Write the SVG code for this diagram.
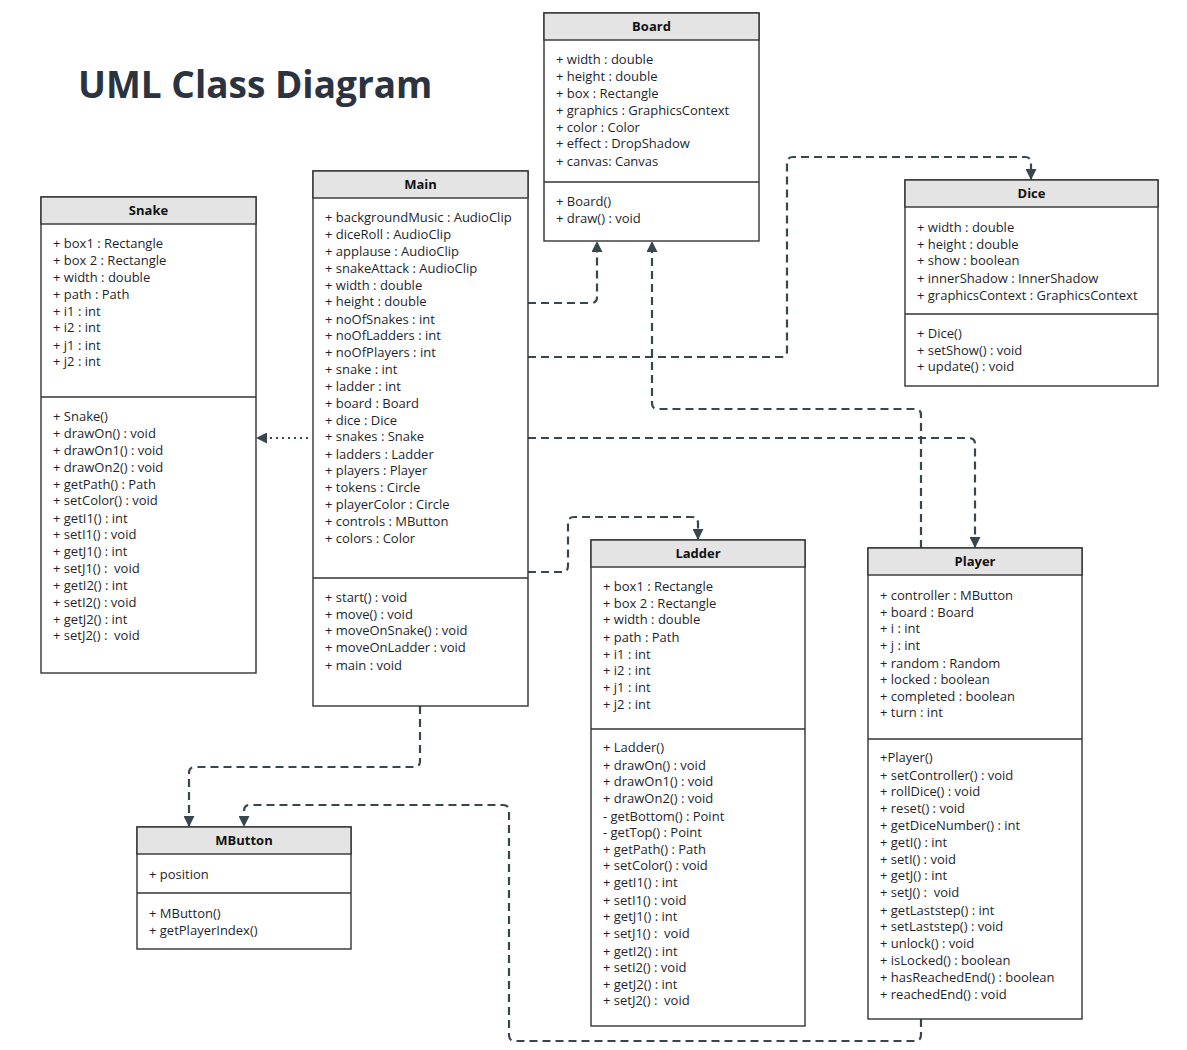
<svg xmlns="http://www.w3.org/2000/svg" width="1187" height="1050" viewBox="0 0 1187 1050">
<style>
.box{fill:#fff;stroke:#333;stroke-width:1.4}
.hdr{fill:#e4e4e4;stroke:#333;stroke-width:1.4}
.div{stroke:#333;stroke-width:1.4}
.t{font-family:"Open Sans","Noto Sans",sans-serif;font-size:13px;fill:#1f1f2e;white-space:pre}
.h{font-family:"Open Sans","Noto Sans",sans-serif;font-size:13px;font-weight:bold;fill:#111;text-anchor:middle}
.title{font-family:"Open Sans","Noto Sans",sans-serif;font-size:37px;font-weight:bold;fill:#2b3340}
.c{fill:none;stroke:#37474f;stroke-width:2.2;stroke-dasharray:8,5}
.d{fill:none;stroke:#37474f;stroke-width:2;stroke-dasharray:2,4}
</style>
<defs>
<marker id="ar" viewBox="0 0 11 11" refX="10" refY="5.5" markerWidth="11" markerHeight="11" markerUnits="userSpaceOnUse" orient="auto">
<path d="M0,0 L11,5.5 L0,11 z" fill="#37474f"/>
</marker>
</defs>
<rect width="1187" height="1050" fill="#fff"/>
<text class="title" x="78" y="98">UML Class Diagram</text>

<g id="connectors">
<path class="c" d="M528,303 H591 Q597,303 597,297 V242" marker-end="url(#ar)"/>
<path class="c" d="M528,357 H781 Q787,357 787,351 V163 Q787,157 793,157 H1025 Q1031,157 1031,163 V179" marker-end="url(#ar)"/>
<path class="c" d="M921,548 V415 Q921,409 915,409 H658 Q652,409 652,403 V242" marker-end="url(#ar)"/>
<path class="c" d="M528,438 H969 Q975,438 975,444 V547" marker-end="url(#ar)"/>
<path class="c" d="M528,572 H562 Q568,572 568,566 V523 Q568,517 574,517 H692 Q698,517 698,523 V539" marker-end="url(#ar)"/>
<path class="c" d="M420,706 V761 Q420,767 414,767 H195 Q189,767 189,773 V826" marker-end="url(#ar)"/>
<path class="c" d="M921,1019 V1035 Q921,1041 915,1041 H515 Q509,1041 509,1035 V811 Q509,805 503,805 H250 Q244,805 244,811 V826" marker-end="url(#ar)"/>
<path class="d" d="M308,438 H257" marker-end="url(#ar)"/>
</g>

<g id="Board">
<rect class="box" x="544" y="13" width="215" height="228"/>
<rect class="hdr" x="544" y="13" width="215" height="27"/>
<text class="h" x="651.5" y="31">Board</text>
<line class="div" x1="544" y1="182" x2="759" y2="182"/>
<text class="t" x="556" y="64">+ width : double</text>
<text class="t" x="556" y="81">+ height : double</text>
<text class="t" x="556" y="98">+ box : Rectangle</text>
<text class="t" x="556" y="115">+ graphics : GraphicsContext</text>
<text class="t" x="556" y="132">+ color : Color</text>
<text class="t" x="556" y="148">+ effect : DropShadow</text>
<text class="t" x="556" y="166">+ canvas: Canvas</text>
<text class="t" x="556" y="206">+ Board()</text>
<text class="t" x="556" y="223">+ draw() : void</text>
</g>

<g id="Main">
<rect class="box" x="313" y="171" width="215" height="535"/>
<rect class="hdr" x="313" y="171" width="215" height="27"/>
<text class="h" x="420.5" y="189">Main</text>
<line class="div" x1="313" y1="578" x2="528" y2="578"/>
<text class="t" x="325" y="222">+ backgroundMusic : AudioClip</text>
<text class="t" x="325" y="239">+ diceRoll : AudioClip</text>
<text class="t" x="325" y="256">+ applause : AudioClip</text>
<text class="t" x="325" y="273">+ snakeAttack : AudioClip</text>
<text class="t" x="325" y="290">+ width : double</text>
<text class="t" x="325" y="306">+ height : double</text>
<text class="t" x="325" y="324">+ noOfSnakes : int</text>
<text class="t" x="325" y="340">+ noOfLadders : int</text>
<text class="t" x="325" y="357">+ noOfPlayers : int</text>
<text class="t" x="325" y="374">+ snake : int</text>
<text class="t" x="325" y="391">+ ladder : int</text>
<text class="t" x="325" y="408">+ board : Board</text>
<text class="t" x="325" y="425">+ dice : Dice</text>
<text class="t" x="325" y="441">+ snakes : Snake</text>
<text class="t" x="325" y="459">+ ladders : Ladder</text>
<text class="t" x="325" y="475">+ players : Player</text>
<text class="t" x="325" y="492">+ tokens : Circle</text>
<text class="t" x="325" y="509">+ playerColor : Circle</text>
<text class="t" x="325" y="526">+ controls : MButton</text>
<text class="t" x="325" y="543">+ colors : Color</text>
<text class="t" x="325" y="602">+ start() : void</text>
<text class="t" x="325" y="619">+ move() : void</text>
<text class="t" x="325" y="635">+ moveOnSnake() : void</text>
<text class="t" x="325" y="652">+ moveOnLadder : void</text>
<text class="t" x="325" y="670">+ main : void</text>
</g>

<g id="Snake">
<rect class="box" x="41" y="197" width="215" height="476"/>
<rect class="hdr" x="41" y="197" width="215" height="27"/>
<text class="h" x="148.5" y="215">Snake</text>
<line class="div" x1="41" y1="397" x2="256" y2="397"/>
<text class="t" x="53" y="248">+ box1 : Rectangle</text>
<text class="t" x="53" y="265">+ box 2 : Rectangle</text>
<text class="t" x="53" y="282">+ width : double</text>
<text class="t" x="53" y="299">+ path : Path</text>
<text class="t" x="53" y="316">+ i1 : int</text>
<text class="t" x="53" y="332">+ i2 : int</text>
<text class="t" x="53" y="350">+ j1 : int</text>
<text class="t" x="53" y="366">+ j2 : int</text>
<text class="t" x="53" y="421">+ Snake()</text>
<text class="t" x="53" y="438">+ drawOn() : void</text>
<text class="t" x="53" y="455">+ drawOn1() : void</text>
<text class="t" x="53" y="472">+ drawOn2() : void</text>
<text class="t" x="53" y="489">+ getPath() : Path</text>
<text class="t" x="53" y="505">+ setColor() : void</text>
<text class="t" x="53" y="523">+ getI1() : int</text>
<text class="t" x="53" y="539">+ setI1() : void</text>
<text class="t" x="53" y="556">+ getJ1() : int</text>
<text class="t" x="53" y="573">+ setJ1() :  void</text>
<text class="t" x="53" y="590">+ getI2() : int</text>
<text class="t" x="53" y="607">+ setI2() : void</text>
<text class="t" x="53" y="624">+ getJ2() : int</text>
<text class="t" x="53" y="640">+ setJ2() :  void</text>
</g>

<g id="Dice">
<rect class="box" x="905" y="180" width="253" height="206"/>
<rect class="hdr" x="905" y="180" width="253" height="27"/>
<text class="h" x="1031.5" y="198">Dice</text>
<line class="div" x1="905" y1="314" x2="1158" y2="314"/>
<text class="t" x="917" y="232">+ width : double</text>
<text class="t" x="917" y="249">+ height : double</text>
<text class="t" x="917" y="265">+ show : boolean</text>
<text class="t" x="917" y="283">+ innerShadow : InnerShadow</text>
<text class="t" x="917" y="300">+ graphicsContext : GraphicsContext</text>
<text class="t" x="917" y="338">+ Dice()</text>
<text class="t" x="917" y="355">+ setShow() : void</text>
<text class="t" x="917" y="371">+ update() : void</text>
</g>

<g id="Ladder">
<rect class="box" x="591" y="540" width="214" height="486"/>
<rect class="hdr" x="591" y="540" width="214" height="27"/>
<text class="h" x="698" y="558">Ladder</text>
<line class="div" x1="591" y1="729" x2="805" y2="729"/>
<text class="t" x="603" y="591">+ box1 : Rectangle</text>
<text class="t" x="603" y="608">+ box 2 : Rectangle</text>
<text class="t" x="603" y="624">+ width : double</text>
<text class="t" x="603" y="642">+ path : Path</text>
<text class="t" x="603" y="659">+ i1 : int</text>
<text class="t" x="603" y="675">+ i2 : int</text>
<text class="t" x="603" y="692">+ j1 : int</text>
<text class="t" x="603" y="709">+ j2 : int</text>
<text class="t" x="603" y="752">+ Ladder()</text>
<text class="t" x="603" y="770">+ drawOn() : void</text>
<text class="t" x="603" y="786">+ drawOn1() : void</text>
<text class="t" x="603" y="803">+ drawOn2() : void</text>
<text class="t" x="603" y="821">- getBottom() : Point</text>
<text class="t" x="603" y="837">- getTop() : Point</text>
<text class="t" x="603" y="854">+ getPath() : Path</text>
<text class="t" x="603" y="870">+ setColor() : void</text>
<text class="t" x="603" y="887">+ getI1() : int</text>
<text class="t" x="603" y="905">+ setI1() : void</text>
<text class="t" x="603" y="921">+ getJ1() : int</text>
<text class="t" x="603" y="938">+ setJ1() :  void</text>
<text class="t" x="603" y="956">+ getI2() : int</text>
<text class="t" x="603" y="972">+ setI2() : void</text>
<text class="t" x="603" y="989">+ getJ2() : int</text>
<text class="t" x="603" y="1005">+ setJ2() :  void</text>
</g>

<g id="Player">
<rect class="box" x="868" y="548" width="214" height="471"/>
<rect class="hdr" x="868" y="548" width="214" height="27"/>
<text class="h" x="975" y="566">Player</text>
<line class="div" x1="868" y1="739" x2="1082" y2="739"/>
<text class="t" x="880" y="600">+ controller : MButton</text>
<text class="t" x="880" y="617">+ board : Board</text>
<text class="t" x="880" y="633">+ i : int</text>
<text class="t" x="880" y="650">+ j : int</text>
<text class="t" x="880" y="668">+ random : Random</text>
<text class="t" x="880" y="684">+ locked : boolean</text>
<text class="t" x="880" y="701">+ completed : boolean</text>
<text class="t" x="880" y="717">+ turn : int</text>
<text class="t" x="880" y="762">+Player()</text>
<text class="t" x="880" y="780">+ setController() : void</text>
<text class="t" x="880" y="796">+ rollDice() : void</text>
<text class="t" x="880" y="813">+ reset() : void</text>
<text class="t" x="880" y="830">+ getDiceNumber() : int</text>
<text class="t" x="880" y="847">+ getI() : int</text>
<text class="t" x="880" y="864">+ setI() : void</text>
<text class="t" x="880" y="880">+ getJ() : int</text>
<text class="t" x="880" y="897">+ setJ() :  void</text>
<text class="t" x="880" y="915">+ getLaststep() : int</text>
<text class="t" x="880" y="931">+ setLaststep() : void</text>
<text class="t" x="880" y="948">+ unlock() : void</text>
<text class="t" x="880" y="965">+ isLocked() : boolean</text>
<text class="t" x="880" y="982">+ hasReachedEnd() : boolean</text>
<text class="t" x="880" y="999">+ reachedEnd() : void</text>
</g>

<g id="MButton">
<rect class="box" x="137" y="827" width="214" height="122"/>
<rect class="hdr" x="137" y="827" width="214" height="27"/>
<text class="h" x="244" y="845">MButton</text>
<line class="div" x1="137" y1="893" x2="351" y2="893"/>
<text class="t" x="149" y="879">+ position</text>
<text class="t" x="149" y="918">+ MButton()</text>
<text class="t" x="149" y="935">+ getPlayerIndex()</text>
</g>
</svg>
